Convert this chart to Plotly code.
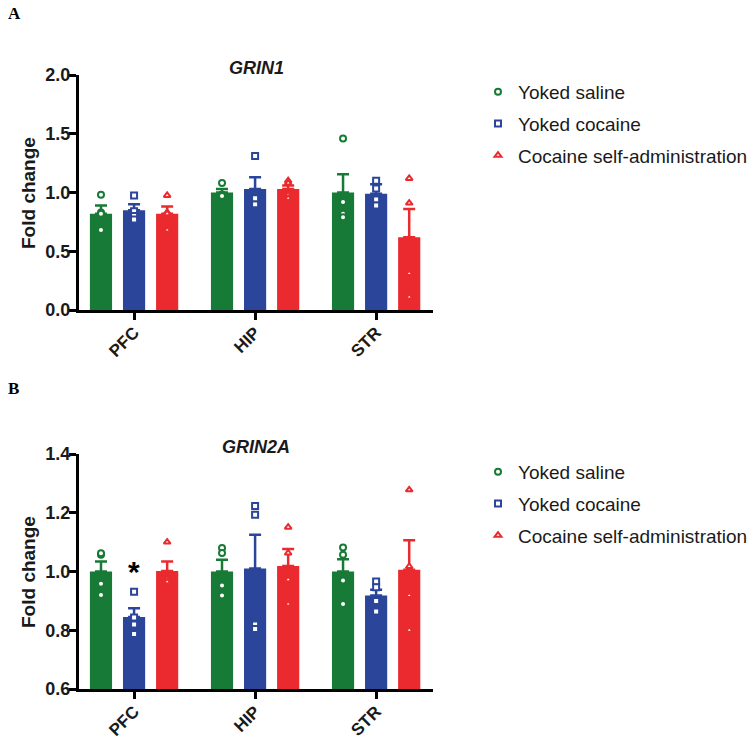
import plotly.graph_objects as go

regions = ["PFC", "HIP", "STR"]
groups = ["Yoked saline", "Yoked cocaine", "Cocaine self-administration"]
colors = ["#177A36", "#2A4599", "#EA2A2E"]
symbols = ["circle", "square", "triangle-up"]

# Panel A: GRIN1 (mean, SEM, individual animals)
grin1_mean_ys = [0.82, 1.00, 1.00]
grin1_mean_yc = [0.85, 1.03, 0.99]
grin1_mean_csa = [0.82, 1.03, 0.62]
grin1_sem_ys = [0.07, 0.03, 0.155]
grin1_sem_yc = [0.05, 0.10, 0.08]
grin1_sem_csa = [0.06, 0.03, 0.24]
grin1_pts_ys = [[0.98, 0.83, 0.82, 0.68], [1.08, 0.98, 0.98, 0.97], [1.46, 0.92, 0.82, 0.79]]
grin1_pts_yc = [[0.975, 0.84, 0.80, 0.77], [1.31, 0.95, 0.90, 0.95], [1.10, 1.035, 0.94, 0.89]]
grin1_pts_csa = [[0.975, 0.83, 0.82, 0.68], [1.10, 1.08, 0.98, 0.95], [1.12, 0.91, 0.31, 0.11]]

# Panel B: GRIN2A
grin2a_mean_ys = [1.00, 1.00, 1.00]
grin2a_mean_yc = [0.845, 1.01, 0.918]
grin2a_mean_csa = [1.002, 1.019, 1.006]
grin2a_sem_ys = [0.034, 0.04, 0.042]
grin2a_sem_yc = [0.03, 0.115, 0.02]
grin2a_sem_csa = [0.032, 0.058, 0.10]
grin2a_pts_ys = [[1.057, 1.062, 0.958, 0.92], [1.08, 1.063, 0.952, 0.918], [1.082, 1.057, 0.969, 0.889]]
grin2a_pts_yc = [[0.931, 0.843, 0.82, 0.787], [1.223, 1.193, 0.82, 0.804], [0.966, 0.946, 0.90, 0.864]]
grin2a_pts_csa = [[1.10, 0.97, 0.975, 0.965], [1.151, 1.063, 0.972, 0.889], [1.278, 1.017, 0.918, 0.80]]

panels = [
    dict(means=[grin1_mean_ys, grin1_mean_yc, grin1_mean_csa],
         sems=[grin1_sem_ys, grin1_sem_yc, grin1_sem_csa],
         pts=[grin1_pts_ys, grin1_pts_yc, grin1_pts_csa],
         xa="x", ya="y", legend="legend"),
    dict(means=[grin2a_mean_ys, grin2a_mean_yc, grin2a_mean_csa],
         sems=[grin2a_sem_ys, grin2a_sem_yc, grin2a_sem_csa],
         pts=[grin2a_pts_ys, grin2a_pts_yc, grin2a_pts_csa],
         xa="x2", ya="y2", legend="legend2"),
]

fig = go.Figure()
for p in panels:
    for g in range(3):
        fig.add_trace(go.Bar(
            x=regions, y=p["means"][g], xaxis=p["xa"], yaxis=p["ya"],
            marker=dict(color=colors[g], line=dict(width=0)),
            error_y=dict(type="data", symmetric=False, array=p["sems"][g],
                         arrayminus=[0] * len(regions), color=colors[g],
                         thickness=2.5, width=6),
            offsetgroup=str(g), alignmentgroup=p["xa"],
            showlegend=False, hoverinfo="skip", name=groups[g]))
    for g in range(3):
        xs, ys = [], []
        for r, reg in enumerate(regions):
            for v in p["pts"][g][r]:
                xs.append(reg)
                ys.append(v)
        fig.add_trace(go.Scatter(
            x=xs, y=ys, mode="markers", xaxis=p["xa"], yaxis=p["ya"],
            orientation="v", offsetgroup=str(g), alignmentgroup=p["xa"],
            marker=dict(symbol=symbols[g], size=6, color="white",
                        line=dict(color=colors[g], width=2)),
            name=groups[g], legend=p["legend"], legendgroup=p["legend"] + str(g)))

W, H = 752, 740
xdom = [79 / W, 433 / W]
tickfont = dict(family="Liberation Sans", size=18, color="#1a1a1a", weight="bold")
xtickfont = dict(family="Liberation Sans", size=17, color="#1a1a1a", weight="bold")

axis_common = dict(showline=True, linecolor="black", linewidth=3, ticks="outside",
                   ticklen=7, tickwidth=3, tickcolor="black", showgrid=False,
                   zeroline=False, automargin=False)

legend_font = dict(family="Liberation Sans", size=19, color="#1a1a1a")

fig.update_layout(
    width=W, height=H, margin=dict(l=0, r=0, t=0, b=0, autoexpand=False),
    paper_bgcolor="white", plot_bgcolor="white",
    barmode="group", bargap=0.18, bargroupgap=0.33,
    scattermode="group", scattergap=0.18,
    xaxis=dict(domain=xdom, anchor="y", range=[-0.455, 2.47], tickangle=-45,
               tickfont=xtickfont, ticklabelstandoff=-4, **axis_common),
    yaxis=dict(domain=[1 - 310 / H, 1 - 75 / H], anchor="x", range=[0, 2.0],
               tickvals=[0, 0.5, 1.0, 1.5, 2.0], ticktext=["0.0", "0.5", "1.0", "1.5", "2.0"],
               tickfont=tickfont, ticklabelstandoff=-5, **axis_common),
    xaxis2=dict(domain=xdom, anchor="y2", range=[-0.455, 2.47], tickangle=-45,
                tickfont=xtickfont, ticklabelstandoff=-4, **axis_common),
    yaxis2=dict(domain=[1 - 689 / H, 1 - 454 / H], anchor="x2", range=[0.6, 1.4],
                tickvals=[0.6, 0.8, 1.0, 1.2, 1.4], ticktext=["0.6", "0.8", "1.0", "1.2", "1.4"],
                tickfont=tickfont, ticklabelstandoff=-5, **axis_common),
    legend=dict(x=478 / W, y=1 - 73 / H, xanchor="left", yanchor="top",
                font=legend_font, tracegroupgap=4, bgcolor="rgba(0,0,0,0)"),
    legend2=dict(x=478 / W, y=1 - 453 / H, xanchor="left", yanchor="top",
                 font=legend_font, tracegroupgap=4, bgcolor="rgba(0,0,0,0)"),
)

xc = (xdom[0] + xdom[1]) / 2
title_font = dict(family="Liberation Sans", size=18, color="#1a1a1a")
fig.add_annotation(text="<b><i>GRIN1</i></b>", x=xc, y=1 - 68 / H, xref="paper", yref="paper",
                   xanchor="center", yanchor="middle", showarrow=False, font=title_font)
fig.add_annotation(text="<b><i>GRIN2A</i></b>", x=xc, y=1 - 447 / H, xref="paper", yref="paper",
                   xanchor="center", yanchor="middle", showarrow=False, font=title_font)
ylab_font = dict(family="Liberation Sans", size=19, color="#1a1a1a")
fig.add_annotation(text="<b>Fold change</b>", x=28 / W, y=1 - 193 / H, xref="paper", yref="paper",
                   xanchor="center", yanchor="middle", showarrow=False, textangle=-90, font=ylab_font)
fig.add_annotation(text="<b>Fold change</b>", x=28 / W, y=1 - 572 / H, xref="paper", yref="paper",
                   xanchor="center", yanchor="middle", showarrow=False, textangle=-90, font=ylab_font)
fig.add_annotation(text="<b>A</b>", x=6 / W, y=1 - 13 / H, xref="paper", yref="paper",
                   xanchor="left", yanchor="middle", showarrow=False,
                   font=dict(family="Liberation Serif", size=17, color="black"))
fig.add_annotation(text="<b>B</b>", x=6 / W, y=1 - 388 / H, xref="paper", yref="paper",
                   xanchor="left", yanchor="middle", showarrow=False,
                   font=dict(family="Liberation Serif", size=17, color="black"))
fig.add_annotation(text="<b>*</b>", x="PFC", y=1.0, xref="x2", yref="y2",
                   showarrow=False, yanchor="middle",
                   font=dict(family="Liberation Sans", size=30, color="black"))

fig.write_html("out.html", config={"displayModeBar": False},
               post_script="document.body.style.margin='0';")
